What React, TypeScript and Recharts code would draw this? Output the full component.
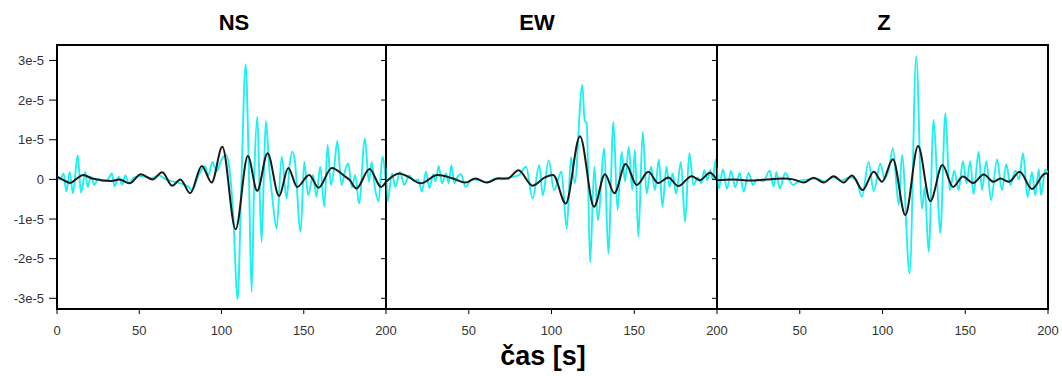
import { Line, LineChart, ReferenceArea, XAxis, YAxis } from "recharts";

// values are in units of 1e-5, time in seconds
const yTicks = [-3, -2, -1, 0, 1, 2, 3];
const xTicksFirst = [0, 50, 100, 150, 200];
const xTicksRest = [50, 100, 150, 200];
const yDomain: [number, number] = [-3.27, 3.39];

const panelTitles = ["NS", "EW", "Z"];

// NS
const nsCyanT = [0, 2, 4, 5.7, 7.7, 9.7, 12.6, 14.6, 17.2, 18.6, 20.7, 22.7, 25, 28, 31, 33.4, 34.9, 37.5, 39.5, 41.5, 43.6, 47, 52, 57, 62, 66, 70, 75, 80, 82, 86, 90, 92, 94.5, 97, 100, 103, 105, 107, 109.8, 112, 114.7, 116.5, 118.3, 120, 121.8, 123, 124.4, 125.8, 127, 129, 131, 133.5, 136.6, 139.6, 141.5, 143, 144.5, 148.1, 150.3, 152.7, 155.7, 157.7, 160, 162.5, 164.5, 166.5, 168.5, 170.4, 173, 175, 177, 179.3, 181.3, 183.6, 187.2, 189.6, 191.3, 193, 195.5, 197.8, 200];
const nsCyanV = [0.07, 0.0, 0.15, -0.31, 0.19, -0.35, 0.61, -0.34, 0.19, -0.19, 0.07, -0.14, 0.02, -0.05, 0.0, 0.15, -0.17, 0.07, -0.13, 0.1, -0.1, 0.05, 0.08, 0.03, 0.1, 0.0, -0.05, -0.1, -0.19, -0.28, 0.1, 0.33, 0.1, 0.44, 0.2, 0.5, 0.61, 0.2, -0.8, -3.02, -0.2, 2.9, 0.5, -2.84, 0.2, 1.58, 0.0, -1.58, 0.2, 1.47, 0.3, -0.5, -1.24, 0.57, -0.48, 0.4, 0.7, 0.5, -1.32, 0.44, -0.4, 0.11, -0.44, 0.32, -0.69, 0.87, -0.14, 0.3, 0.97, -0.14, 0.2, 0.4, -0.2, 0.11, -0.61, 1.03, -0.06, 0.44, -0.14, -0.55, 0.57, -0.1];
const nsBlackT = [0, 4, 8, 12, 16, 21, 27, 33, 38, 44, 51, 58, 64, 70, 75, 81, 88, 94, 100.5, 108.6, 116, 121.7, 128, 135, 140.6, 146, 153.3, 159, 167, 174, 178, 182, 190, 197, 200];
const nsBlackV = [0.07, -0.02, -0.09, 0.02, 0.11, 0.03, -0.02, -0.04, 0.0, -0.1, 0.13, 0.0, 0.18, -0.16, 0.0, -0.35, 0.34, -0.08, 0.82, -1.26, 0.59, -0.29, 0.66, -0.42, 0.29, -0.19, 0.11, -0.21, 0.29, 0.11, -0.02, -0.23, 0.26, -0.19, -0.06];

// EW
const ewCyanT = [0, 1, 3.6, 5.6, 8.5, 11, 14, 17, 19.5, 21.7, 24.2, 26.2, 28.6, 30, 31.8, 33.8, 36.3, 37.9, 39.5, 41.3, 43.3, 45.3, 48, 52, 56, 61, 66, 70, 75, 80, 84.6, 88.6, 92.6, 94.7, 98.3, 101.5, 106, 109.2, 111.8, 114, 118.6, 120, 121.3, 123.3, 125.9, 128, 131.9, 134.3, 137.4, 139.9, 142.4, 144.4, 146.7, 148.8, 150.4, 152.5, 155.1, 157.5, 160.1, 162.5, 164.9, 167, 169.5, 171.3, 173.2, 175.3, 178.2, 180.7, 183.3, 185.8, 188.5, 190.5, 192.3, 194.2, 196, 197.5, 199.2, 200];
const ewCyanV = [0.3, -0.56, 0.15, -0.19, 0.19, -0.14, 0.1, -0.05, 0.0, -0.31, 0.2, -0.22, 0.13, -0.05, 0.34, -0.1, 0.15, -0.1, 0.36, -0.1, 0.07, 0.13, -0.19, 0.0, -0.02, -0.08, 0.02, 0.0, 0.05, 0.1, 0.32, -0.48, 0.36, -0.4, 0.48, -0.27, 0.2, -1.24, 0.56, -0.1, 2.38, 1.5, 1.41, -2.1, 0.32, -1.03, 0.78, -1.87, 1.45, -0.78, 0.7, -0.05, 0.82, -0.27, 0.74, -1.45, 1.2, -0.36, 0.32, -0.27, 0.5, -0.69, 0.32, -0.19, 0.15, -0.36, 0.44, -1.07, 0.66, -0.14, 0.05, -0.1, 0.23, -0.02, 0.23, 0.0, 0.5, -0.05];
const ewBlackT = [0, 8, 14, 21, 31, 40, 48, 54, 61, 68, 73.5, 80, 88.6, 96, 101, 108.6, 117.2, 125.7, 132.3, 138, 144.8, 151.5, 158.5, 164.5, 170.6, 176.6, 184.7, 189.7, 195.8, 200];
const ewBlackV = [-0.06, 0.15, 0.05, -0.1, 0.11, 0.03, -0.08, 0.02, -0.08, 0.03, 0.02, 0.23, -0.16, 0.05, 0.11, -0.61, 1.09, -0.69, 0.13, -0.35, 0.39, -0.14, 0.19, -0.09, 0.05, -0.17, 0.08, -0.02, 0.17, -0.02];

// Z
const zCyanT = [0, 1, 3.6, 6, 8.5, 11, 13.7, 16.1, 19.1, 21.7, 24.2, 28, 31.8, 34.2, 35.9, 37.9, 41.3, 43.5, 45.9, 50, 55, 60, 65, 70, 75, 80, 84, 87.6, 91.6, 94.7, 98.7, 101.3, 103.7, 106.3, 109.8, 111.8, 116.4, 120.4, 123.9, 125.5, 127.9, 130.9, 133, 134.9, 138, 140.6, 143.4, 146, 148.6, 150.8, 153, 155, 158.1, 160.1, 162.7, 165.6, 169.2, 172.2, 174.8, 177.3, 180.3, 182.5, 184.9, 187.7, 190.3, 192.3, 194.4, 195.8, 198.4, 200];
const zCyanV = [0.3, -0.24, 0.25, -0.24, 0.21, -0.2, 0.16, -0.31, 0.16, -0.14, 0.0, -0.05, 0.22, -0.18, 0.18, -0.23, 0.16, 0.0, -0.14, -0.03, 0.0, 0.02, -0.05, 0.05, -0.03, 0.05, 0.0, -0.44, 0.44, -0.3, 0.4, 0.0, 0.24, 0.78, -0.65, 0.61, -2.37, 3.1, -0.73, -0.2, -1.83, 1.5, 0.0, -1.36, 1.67, -0.27, 0.22, -0.27, 0.46, -0.1, 0.46, -0.37, 0.7, -0.27, 0.46, -0.52, 0.5, -0.27, 0.38, -0.14, 0.22, 0.0, 0.66, -0.45, 0.18, -0.4, 0.25, -0.4, 0.25, 0.15];
const zBlackT = [0, 10, 20, 30, 40, 46, 52.4, 58.4, 64.5, 70.5, 76.5, 81.6, 88, 94.7, 99.7, 106.3, 113.8, 121.5, 128.9, 136.2, 142.6, 148.6, 154.7, 161.1, 167.2, 171.2, 176.2, 182.9, 190.3, 198.4, 200];
const zBlackV = [-0.02, 0.0, -0.03, 0.0, 0.02, 0.0, -0.08, 0.04, -0.08, 0.08, -0.08, 0.1, -0.27, 0.19, -0.06, 0.51, -0.9, 0.84, -0.55, 0.36, -0.19, 0.07, -0.09, 0.12, -0.06, 0.02, -0.06, 0.19, -0.24, 0.15, 0.15];

const rows = (t: number[], v: number[]) => t.map((x, i) => ({ t: x, v: v[i] }));

const panels = [
  { cyan: rows(nsCyanT, nsCyanV), black: rows(nsBlackT, nsBlackV) },
  { cyan: rows(ewCyanT, ewCyanV), black: rows(ewBlackT, ewBlackV) },
  { cyan: rows(zCyanT, zCyanV), black: rows(zBlackT, zBlackV) },
];

const tickStyle = { fill: "#333", fontSize: 13, fontFamily: "Liberation Sans, Arial, sans-serif" };

// chart box per panel: left offset and width (plot area = left+57 .. left+width-18)
const boxes = [
  { left: 0, width: 404 },
  { left: 329, width: 406 },
  { left: 660, width: 406 },
];

function Panel({ index }: { index: number }) {
  const p = panels[index];
  const first = index === 0;
  return (
    <LineChart width={boxes[index].width} height={340} margin={{ top: 45, right: 18, left: 0, bottom: 1 }}>
      <XAxis
        type="number"
        dataKey="t"
        domain={[0, 200]}
        ticks={first ? xTicksFirst : xTicksRest}
        interval={0}
        allowDataOverflow
        height={30}
        tickSize={5}
        tickMargin={12}
        stroke="#000"
        tick={tickStyle}
      />
      <YAxis
        type="number"
        domain={yDomain}
        ticks={yTicks}
        interval={0}
        allowDataOverflow
        width={57}
        tickSize={first ? 8 : 5}
        tickMargin={5}
        stroke="#000"
        tick={tickStyle}
        tickFormatter={(v: number) => (first ? (v === 0 ? "0" : `${v}e-5`) : "")}
      />
      <Line
        data={p.cyan}
        dataKey="v"
        type="monotone"
        stroke="#1ef0f0"
        strokeWidth={1.9}
        dot={false}
        isAnimationActive={false}
      />
      <Line
        data={p.black}
        dataKey="v"
        type="monotone"
        stroke="#1a1a1a"
        strokeWidth={2}
        dot={false}
        isAnimationActive={false}
      />
      <ReferenceArea
        x1={0}
        x2={200}
        y1={yDomain[0]}
        y2={yDomain[1]}
        fill="none"
        stroke="#000"
        strokeWidth={2}
        ifOverflow="visible"
      />
    </LineChart>
  );
}

const titleCenters = [234, 537, 884];

export default function App() {
  return (
    <div
      style={{
        position: "absolute",
        left: 0,
        top: 0,
        width: 1062,
        height: 376,
        background: "#fff",
        fontFamily: "Liberation Sans, Arial, sans-serif",
      }}
    >
      {boxes.map((b, i) => (
        <div key={i} style={{ position: "absolute", left: b.left, top: 0 }}>
          <Panel index={i} />
        </div>
      ))}
      {panelTitles.map((t, i) => (
        <div
          key={t}
          style={{
            position: "absolute",
            left: titleCenters[i] - 50,
            width: 100,
            top: 10,
            textAlign: "center",
            fontSize: 22,
            fontWeight: "bold",
            color: "#000",
          }}
        >
          {t}
        </div>
      ))}
      <div
        style={{
          position: "absolute",
          left: 443,
          width: 200,
          top: 341,
          textAlign: "center",
          fontSize: 27,
          fontWeight: "bold",
          color: "#000",
        }}
      >
        čas [s]
      </div>
    </div>
  );
}
